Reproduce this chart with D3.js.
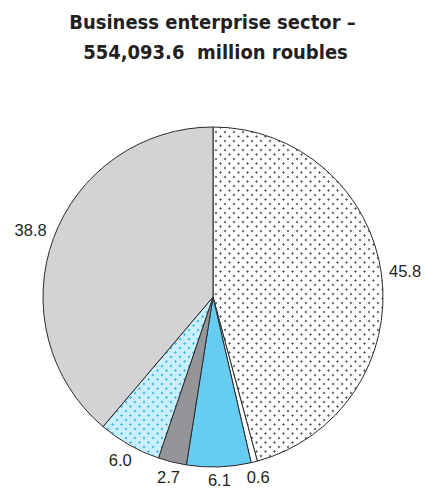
<!DOCTYPE html>
<html>
<head>
<meta charset="utf-8">
<script src="https://cdn.jsdelivr.net/npm/d3@7"></script>
<style>
  html, body { margin: 0; padding: 0; background: #fff; }
  svg { display: block; }
</style>
</head>
<body>
<svg id="chart" width="425" height="491"></svg>
<script>
// Shares of R&D expenditure, business enterprise sector (per cent)
const categories = ["A", "B", "C", "D", "E", "F"];
const shares = [45.8, 0.6, 6.1, 2.7, 6.0, 38.8];
const shareLabels = ["45.8", "0.6", "6.1", "2.7", "6.0", "38.8"];
const fills = ["url(#dotsGray)", "#ffffff", "#66ccf2", "#939598", "url(#dotsBlue)", "#d3d3d5"];
const titleLines = ["Business enterprise sector –", "554,093.6  million roubles"];

const svg = d3.select("#chart");
const W = 425;
const cx = 213, cy = 297, R = 170;

// patterns: small plus marks on a staggered grid
const defs = svg.append("defs");
function plusPattern(id, bg, ink) {
  const s = 9;
  const p = defs.append("pattern")
    .attr("id", id).attr("patternUnits", "userSpaceOnUse")
    .attr("width", s).attr("height", s)
    .attr("x", cx).attr("y", cy);
  p.append("rect").attr("width", s).attr("height", s).attr("fill", bg);
  [[1.5, 1.5], [6, 6]].forEach(([x, y]) => {
    p.append("rect").attr("x", x - 1.2).attr("y", y - 0.5).attr("width", 2.4).attr("height", 1).attr("fill", ink);
    p.append("rect").attr("x", x - 0.5).attr("y", y - 1.2).attr("width", 1).attr("height", 2.4).attr("fill", ink);
  });
}
plusPattern("dotsGray", "#ffffff", "#555555");
plusPattern("dotsBlue", "#c9eefc", "#2fb3ea");

// title
svg.append("g").selectAll("text").data(titleLines).join("text")
  .attr("x", (d, i) => W / 2 + i * 3).attr("y", (d, i) => 29 + i * 30)
  .attr("text-anchor", "middle")
  .attr("font-family", "'DejaVu Sans Condensed', 'DejaVu Sans', sans-serif")
  .attr("font-weight", "bold")
  .attr("font-size", 20)
  .attr("fill", "#231f20")
  .style("white-space", "pre")
  .text(d => d);

const pie = d3.pie().sort(null).value(d => d)
  .startAngle(0).endAngle(2 * Math.PI);
const arcs = pie(shares);
const arc = d3.arc().innerRadius(0).outerRadius(R);

const g = svg.append("g").attr("transform", `translate(${cx},${cy})`);
g.selectAll("path").data(arcs).join("path")
  .attr("d", arc)
  .attr("fill", (d, i) => fills[i])
  .attr("stroke", "#2b2b2b")
  .attr("stroke-width", 1)
  .attr("stroke-linejoin", "round");

// value labels: each text box sits just outside the rim along its slice's mid-angle
const gap = 7, capHalf = 6.3;
g.selectAll("text").data(arcs).join("text")
  .attr("text-anchor", "middle")
  .attr("dy", "0.35em")
  .attr("font-family", "'Liberation Sans', Arial, sans-serif")
  .attr("font-size", 16.5)
  .attr("fill", "#231f20")
  .text((d, i) => shareLabels[i])
  .attr("transform", function (d) {
    const a = (d.startAngle + d.endAngle) / 2;
    const s = Math.sin(a), c = -Math.cos(a);
    const halfW = this.getComputedTextLength() / 2;
    const r = R + gap + halfW * Math.abs(s) + capHalf * Math.abs(c);
    return `translate(${r * s},${r * c})`;
  });
</script>
</body>
</html>
